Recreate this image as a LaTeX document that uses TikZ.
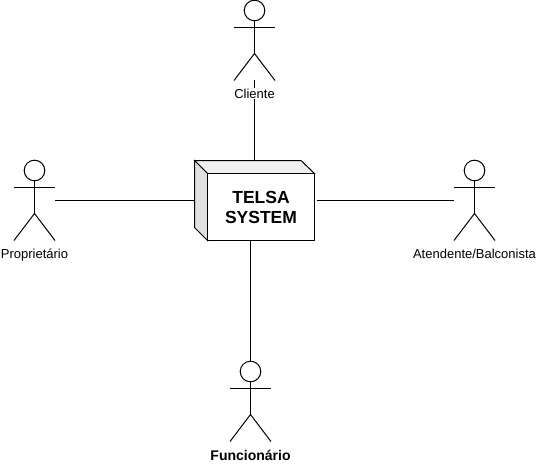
\documentclass[tikz,border=0pt]{standalone}
\usepackage{fontspec}
\setmainfont{Liberation Sans}
\usetikzlibrary{positioning}
\begin{document}
\begin{tikzpicture}[x=1pt,y=-1pt,line width=1pt,
  ator/.style={minimum width=41pt, minimum height=80pt, inner sep=0pt, outer sep=0pt},
  caixa/.style={minimum width=120pt, minimum height=80pt, inner sep=0pt, outer sep=0pt},
  rotulo/.style={font=\fontsize{13}{15}\selectfont, fill=white, inner sep=0.5pt}]
\useasboundingbox (0,0) rectangle (537,465);
\foreach \n/\x/\y in {cliente/254.5/40.5, proprietario/34.5/200.5, atendente/474.5/200.5, funcionario/250.5/401.5}
  \node[ator] (\n) at (\x, \y) {};
\node[caixa] (sistema) at (254.5, 200.5) {};
% ligacoes
\draw (cliente.south) -- (sistema.north);
\draw (proprietario.east) -- (sistema.west);
\draw ([xshift=2pt]sistema.east) -- (atendente.west);
\draw (funcionario.north) -- (sistema.south -| funcionario.north);
% atores
\foreach \n in {cliente, proprietario, atendente, funcionario}
  {\draw ([yshift=-10pt]\n.north) circle (10.3pt);
  \draw ([yshift=-20.5pt]\n.north) -- ([yshift=-53pt]\n.north);
  \draw ([yshift=-27pt]\n.north west) -- ([yshift=-27pt]\n.north east);
  \draw (\n.south west) -- ([yshift=-53pt]\n.north) -- (\n.south east);};
\foreach \n/\t in {cliente/Cliente, proprietario/Proprietário, atendente/Atendente\slash Balconista}
  \node[rotulo, below=7.5pt of \n] (r\n) {\t};
\node[rotulo, below=7.5pt of funcionario, font=\fontsize{14}{16}\selectfont\bfseries] (rfuncionario) {Funcionário};
% caixa 3d
\draw[fill=white!94!black] (sistema.north west) -- (sistema.north east -| 301,0) -- (sistema.east |- 0,173.5) -- (207.5,173.5) -- cycle;
\draw[fill=white!88!black] (sistema.north west) -- (207.5,173.5) -- (sistema.south -| 207.5,0) -- (194.5,227.5) -- cycle;
\node[draw, fill=white, minimum width=107pt, minimum height=67pt, inner sep=0pt, outer sep=0pt,
  align=center, font=\fontsize{17.5}{20}\selectfont\bfseries, text depth=0pt] (frente) at (261, 207) {TELSA\\[0pt]SYSTEM};
\end{tikzpicture}
\end{document}
